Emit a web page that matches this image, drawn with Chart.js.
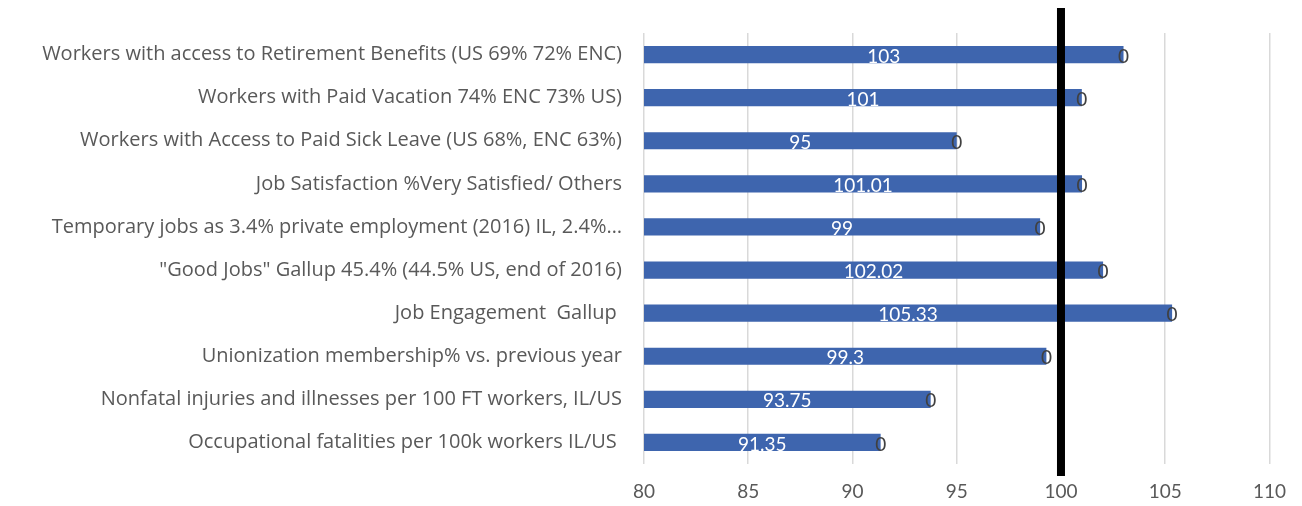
<!DOCTYPE html>
<html>
<head>
<meta charset="utf-8">
<script src="https://cdn.jsdelivr.net/npm/chart.js@4.4.1/dist/chart.umd.min.js"></script>
<style>
  html, body { margin: 0; padding: 0; background: #fff; }
  #wrap { width: 1302px; height: 506px; position: relative; }
</style>
</head>
<body>
<div id="wrap"><canvas id="barChart"></canvas></div>
<script>
/* ---------- data ---------- */
const categories = [
  "Workers with access to Retirement Benefits (US 69% 72% ENC)",
  "Workers with Paid Vacation 74% ENC 73% US)",
  "Workers with Access to Paid Sick Leave (US 68%, ENC 63%)",
  "Job Satisfaction %Very Satisfied/ Others",
  "Temporary jobs as 3.4% private employment (2016) IL, 2.4%\u2026",
  "\"Good Jobs\" Gallup 45.4% (44.5% US, end of 2016)",
  "Job Engagement  Gallup ",
  "Unionization membership% vs. previous year",
  "Nonfatal injuries and illnesses per 100 FT workers, IL/US",
  "Occupational fatalities per 100k workers IL/US "
];
const indexValues = [103, 101, 95, 101.01, 99, 102.02, 105.33, 99.3, 93.75, 91.35];
const endValues = [0, 0, 0, 0, 0, 0, 0, 0, 0, 0];
const xTicks = [80, 85, 90, 95, 100, 105, 110];
const referenceValue = 100;

const FONT = "Lato, 'Open Sans', sans-serif";
const LABEL_FONT = "'Open Sans', Lato, sans-serif";

/* ---------- plugins ---------- */
// thick black reference line at 100
const refLine = {
  id: "refLine",
  afterDatasetsDraw(chart) {
    const ctx = chart.ctx;
    const x = chart.scales.x.getPixelForValue(referenceValue);
    ctx.save();
    ctx.fillStyle = "#000";
    ctx.fillRect(x - 4, 8, 8, chart.chartArea.bottom + 12 - 8);
    ctx.restore();
  }
};

// value labels: white centered in bar, grey "0" at bar end
const barLabels = {
  id: "barLabels",
  afterDatasetsDraw(chart) {
    const ctx = chart.ctx;
    const xs = chart.scales.x;
    ctx.save();
    ctx.font = "19px " + FONT;
    ctx.textAlign = "center";
    ctx.textBaseline = "middle";
    chart.getDatasetMeta(0).data.forEach((bar, i) => {
      const left = Math.max(xs.left, Math.min(bar.x, bar.base));
      const cx = (left + bar.x) / 2;
      ctx.fillStyle = "#fff";
      ctx.fillText(String(indexValues[i]), cx, bar.y + 2);
    });
    chart.getDatasetMeta(1).data.forEach((bar, i) => {
      ctx.fillStyle = "#404040";
      ctx.fillText(String(endValues[i]), bar.x, bar.y + 2);
    });
    ctx.restore();
  }
};

/* ---------- chart ---------- */
new Chart(document.getElementById("barChart"), {
  type: "bar",
  data: {
    labels: categories,
    datasets: [
      {
        label: "Index",
        data: indexValues,
        backgroundColor: "#3E65AE",
        categoryPercentage: 1,
        barPercentage: 0.4,
        stack: "s"
      },
      {
        label: "End",
        data: endValues,
        backgroundColor: "#3E65AE",
        categoryPercentage: 1,
        barPercentage: 0.4,
        stack: "s"
      }
    ]
  },
  options: {
    indexAxis: "y",
    responsive: true,
    maintainAspectRatio: false,
    animation: false,
    layout: { padding: { top: 33, right: 27, left: 0, bottom: 0 } },
    plugins: {
      legend: { display: false },
      tooltip: { enabled: false }
    },
    scales: {
      x: {
        min: 80,
        max: 110,
        stacked: true,
        afterBuildTicks: (s) => { s.ticks = xTicks.map(v => ({ value: v })); },
        afterFit: (s) => { s.height = 42; },
        grid: { color: "#D9D9D9", lineWidth: 1.5, drawTicks: false },
        border: { display: false },
        ticks: { color: "#595959", font: { family: FONT, size: 19 }, padding: 16 }
      },
      y: {
        stacked: true,
        afterFit: (s) => { s.width = 644; },
        grid: { display: false },
        border: { display: false },
        ticks: { color: "#595959", font: { family: LABEL_FONT, size: 20 }, padding: 14, autoSkip: false }
      }
    }
  },
  plugins: [refLine, barLabels]
});
</script>
</body>
</html>
